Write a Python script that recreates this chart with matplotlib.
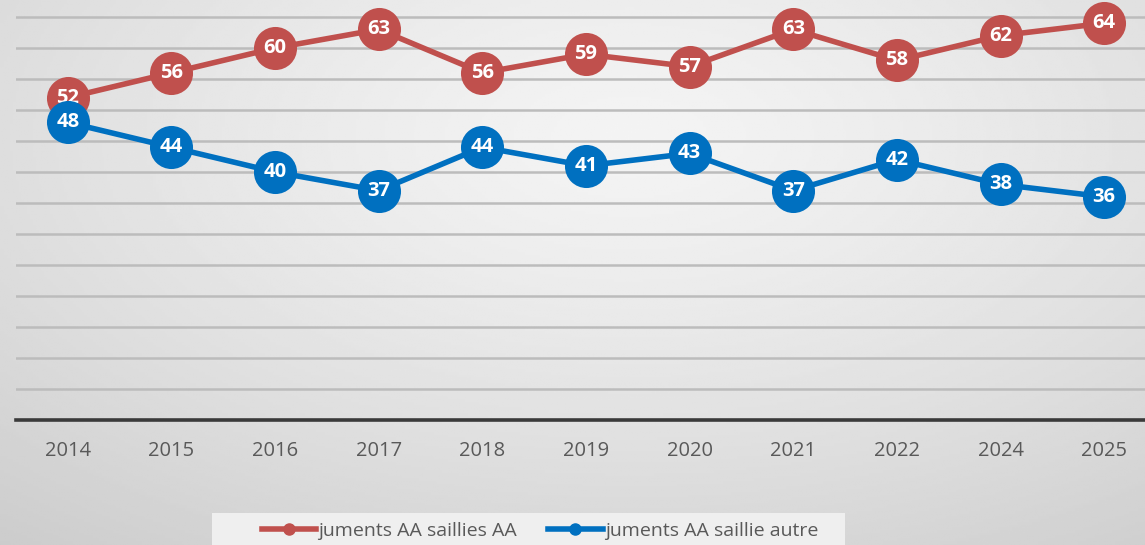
import matplotlib
matplotlib.use("Agg")
import matplotlib.pyplot as plt
import numpy as np
from matplotlib.lines import Line2D
from matplotlib.patches import Rectangle

years = ["2014", "2015", "2016", "2017", "2018", "2019", "2020", "2021", "2022", "2024", "2025"]
saillies_aa = [52, 56, 60, 63, 56, 59, 57, 63, 58, 62, 64]
saillie_autre = [48, 44, 40, 37, 44, 41, 43, 37, 42, 38, 36]
series_names = ["juments AA saillies AA", "juments AA saillie autre"]

W, H = 1145, 545
fig = plt.figure(figsize=(W / 100, H / 100), dpi=100)

# background radial gradient
bg = fig.add_axes([0, 0, 1, 1], zorder=-10)
yy, xx = np.mgrid[0:1:200j, 0:1:400j]
r = np.sqrt(((xx - 0.55) * 1.0) ** 2 + ((yy - 0.25) * 0.9) ** 2)
r = r / r.max()
c0, c1 = 0.955, 0.80
vals = c0 - (c0 - c1) * r ** 1.3
bg.imshow(vals, cmap="gray", vmin=0, vmax=1, aspect="auto", extent=[0, 1, 0, 1], origin="upper")
bg.set_xlim(0, 1)
bg.set_ylim(0, 1)
bg.set_axis_off()
# legend box
bg.add_patch(Rectangle((212 / W, 0), (845 - 212) / W, 1 - 513 / H,
                       facecolor="#efefef", edgecolor="none", zorder=2))

left = 16 / W
right = 1156 / W
bottom = 1 - 420 / H
ax = fig.add_axes([left, bottom, right - left, 1 - bottom])
ax.set_facecolor("none")
x = np.arange(len(years))
ax.set_xlim(-0.5, len(years) - 0.5)
ax.set_ylim(0, 420 / 6.2)
ax.set_yticks(np.arange(5, 66, 5))
ax.yaxis.grid(True, color="#bcbcbc", linewidth=1.8)
ax.set_axisbelow(True)
for s in ["top", "right", "left"]:
    ax.spines[s].set_visible(False)
ax.spines["bottom"].set_color("#3a3a3a")
ax.spines["bottom"].set_linewidth(2.6)
ax.tick_params(axis="y", length=0, labelleft=False)
ax.tick_params(axis="x", length=0, pad=15, labelsize=14.5, labelcolor="#595959")
ax.set_xticks(x)
ax.set_xticklabels(years, fontfamily="Open Sans")

red = "#c0504d"
blue = "#0070c0"
for k, (vals_s, col, name) in enumerate([(saillies_aa, red, series_names[0]),
                                          (saillie_autre, blue, series_names[1])]):
    ax.plot(x, vals_s, color=col, linewidth=4, marker="o", markersize=31,
            markeredgewidth=0, label=name, clip_on=False, zorder=3 + 2 * k)
    for xi, v in zip(x, vals_s):
        ax.text(xi, v, str(v), color="white", ha="center", va="center",
                fontsize=14.5, fontweight="bold", fontfamily="Open Sans", zorder=4 + 2 * k)

handles = [Line2D([], [], color=red, linewidth=4, marker="o", markersize=8),
           Line2D([], [], color=blue, linewidth=4, marker="o", markersize=8)]
leg = fig.legend(handles, series_names, loc="center", bbox_to_anchor=(540 / W, 1 - 531 / H),
                 ncol=2, frameon=False, handlelength=2.8,
                 handletextpad=0.1, columnspacing=1.6, borderpad=0.0,
                 prop={"family": "Open Sans", "size": 14})
for t in leg.get_texts():
    t.set_color("#595959")

fig.savefig("out.png", dpi=100)
